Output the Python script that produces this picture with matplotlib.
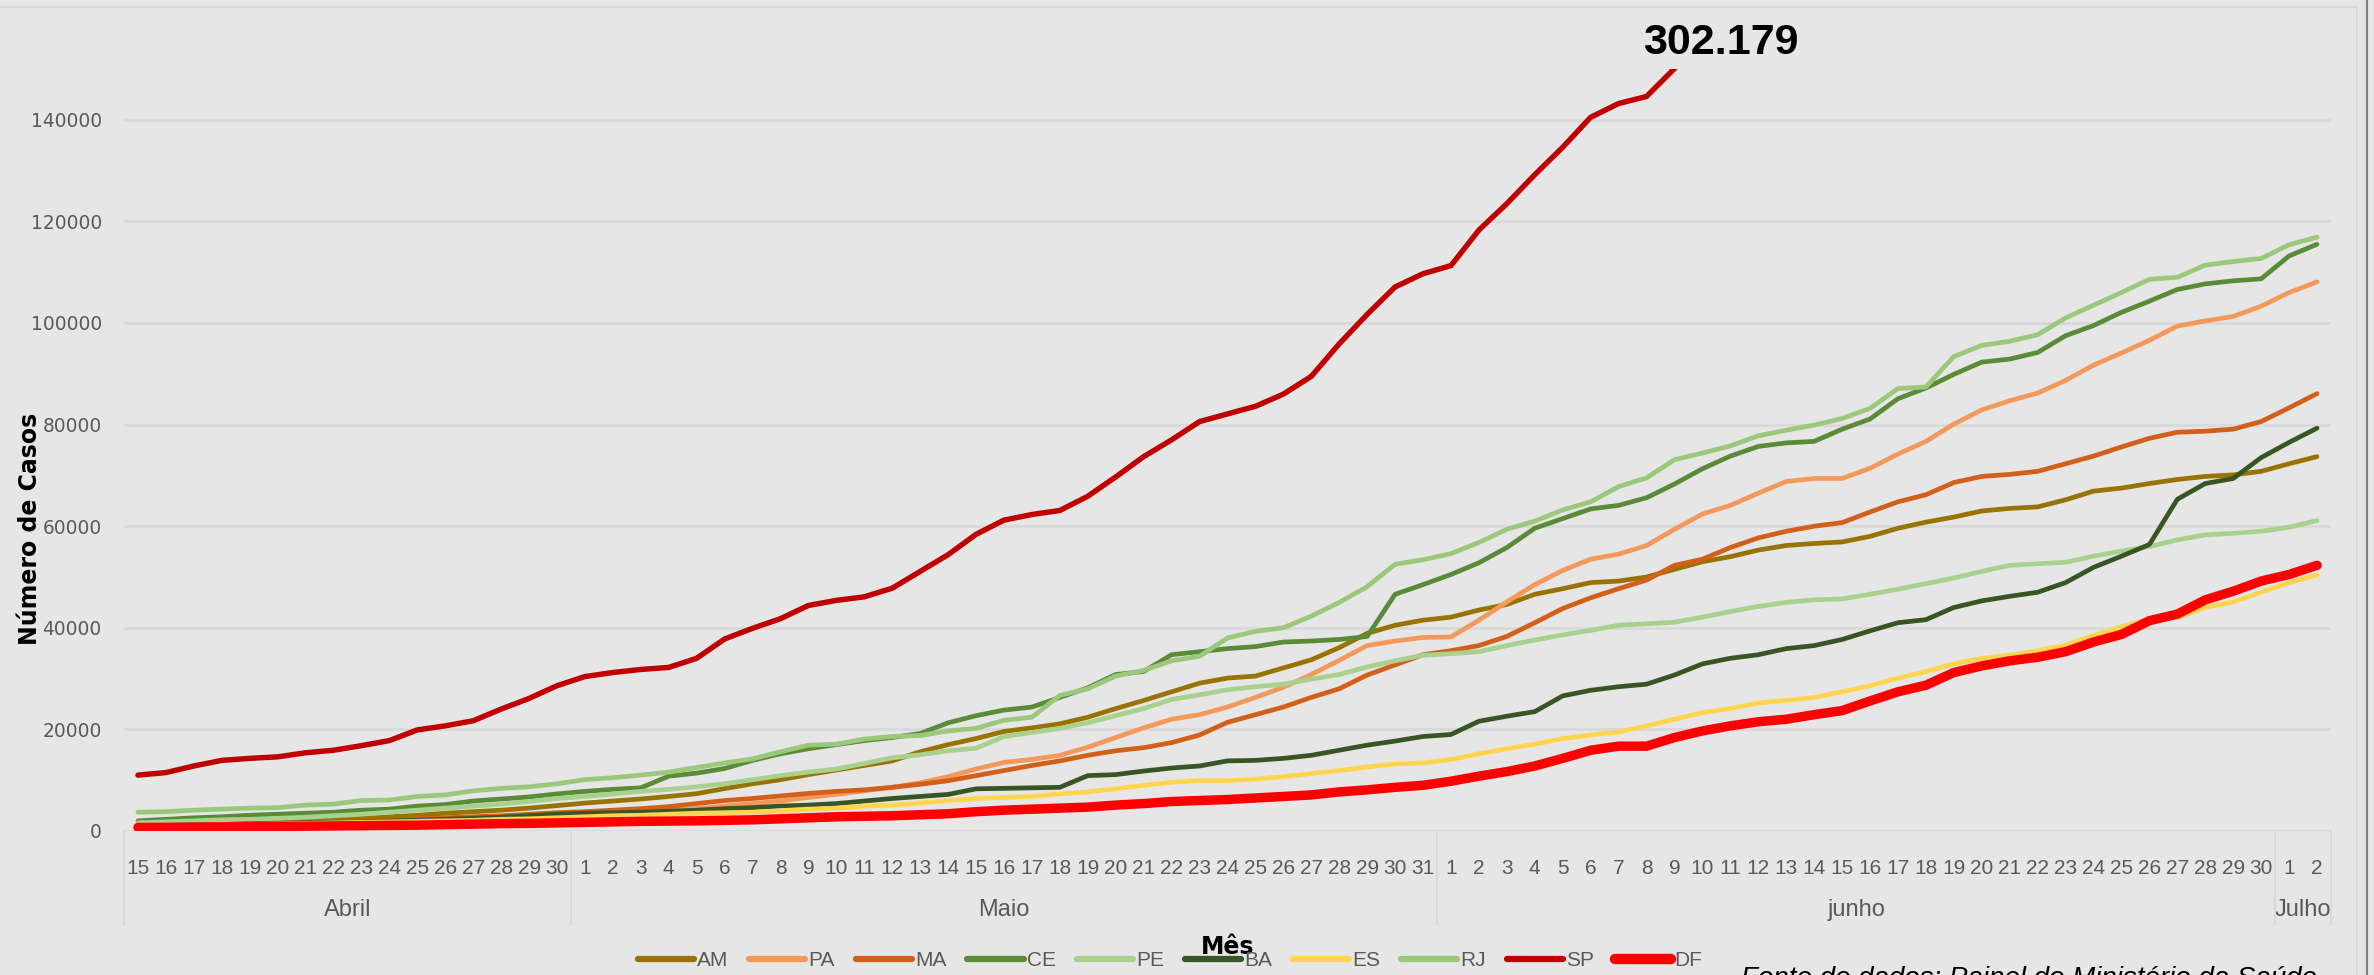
import numpy as np
import matplotlib
matplotlib.use('Agg')
import matplotlib.pyplot as plt
from matplotlib import transforms
from matplotlib.lines import Line2D

# eixo x: 15/abr a 2/jul
months = ['Abril', 'Maio', 'junho', 'Julho']
month_first = [15, 1, 1, 1]
month_last = [30, 31, 30, 2]
day_labels = []
for a, b in zip(month_first, month_last):
    day_labels += [str(d) for d in range(a, b + 1)]

am = [1200, 1300, 1400, 1500, 1600, 1800, 2000, 2200, 2500, 2800, 3100, 3500, 3800, 4100, 4500, 5000,
      5500, 5900, 6300, 6800, 7350, 8350, 9300, 10100, 11100, 12000,
      12900, 13800, 15600, 17000, 18200, 19600, 20300, 21100, 22400, 24100, 25700, 27400, 29100, 30100, 30500,
      32100, 33700, 36100, 38900, 40500, 41500,
      42100, 43500, 44600, 46600, 47700, 48900, 49200, 50000, 51500, 53000, 54000, 55300, 56200, 56600, 56900,
      58000, 59600, 60800, 61800, 63000, 63500, 63800, 65200, 66900, 67500, 68400, 69200, 69800, 70100, 70800,
      72300, 73700]
pa = [500, 550, 650, 700, 800, 900, 1000, 1100, 1300, 1500, 1700, 1900, 2100, 2400, 2700, 3000,
      3300, 3500, 3700, 4000, 4400, 4900, 5400, 5900, 6600, 7200,
      7900, 8600, 9500, 10700, 12200, 13500, 14100, 14900, 16500, 18400, 20300, 22000, 22900, 24400, 26300,
      28300, 30800, 33600, 36500, 37400, 38100,
      38200, 41500, 45100, 48500, 51300, 53500, 54500, 56200, 59400, 62400, 64100, 66500, 68800, 69400, 69400,
      71400, 74200, 76700, 80100, 82900, 84700, 86200, 88700, 91700, 94100, 96600, 99400, 100400, 101300, 103300,
      106000, 108100]
ma = [1000, 1100, 1200, 1300, 1400, 1500, 1700, 1800, 2000, 2200, 2400, 2600, 2800, 3000, 3300, 3600,
      3800, 4100, 4400, 4800, 5400, 6000, 6400, 6900, 7400, 7800,
      8100, 8600, 9200, 9900, 10900, 11900, 12900, 13800, 14900, 15800, 16400, 17400, 18900, 21400, 22900,
      24400, 26300, 28000, 30700, 32700, 34700,
      35500, 36500, 38300, 41000, 43800, 45900, 47700, 49400, 52300, 53500, 55800, 57700, 59000, 60000, 60700,
      62800, 64800, 66200, 68600, 69800, 70200, 70800, 72300, 73800, 75600, 77300, 78500, 78700, 79100, 80600,
      83300, 86100]
ce = [2000, 2300, 2600, 2800, 3100, 3300, 3500, 3700, 4100, 4300, 4900, 5200, 5900, 6300, 6700, 7300,
      7800, 8200, 8500, 10800, 11400, 12300, 13900, 15200, 16200, 17000,
      17800, 18400, 19200, 21300, 22700, 23800, 24400, 26300, 28200, 30800, 31400, 34700, 35300, 35900, 36300,
      37200, 37400, 37700, 38300, 46600, 48500,
      50500, 52800, 55800, 59600, 61500, 63400, 64100, 65600, 68300, 71300, 73800, 75700, 76400, 76700, 79100,
      81100, 85100, 87200, 89900, 92300, 92900, 94200, 97500, 99500, 102100, 104300, 106600, 107700, 108300, 108700,
      113200, 115500]
pe = [1600, 1800, 2000, 2200, 2300, 2500, 2700, 3000, 3300, 3700, 4100, 4500, 4900, 5300, 5800, 6400,
      6800, 7300, 7800, 8200, 8700, 9300, 10100, 10900, 11600, 12200,
      13300, 14400, 15000, 15800, 16300, 18600, 19400, 20200, 21300, 22700, 24100, 25900, 26800, 27800, 28400,
      28900, 29900, 30800, 32300, 33500, 34600,
      34900, 35300, 36500, 37600, 38600, 39500, 40500, 40800, 41100, 42100, 43200, 44200, 45000, 45500, 45700,
      46600, 47600, 48700, 49800, 51100, 52300, 52600, 52900, 54100, 55100, 56000, 57300, 58300, 58600, 59000,
      59800, 61100]
ba = [1000, 1100, 1200, 1300, 1400, 1500, 1600, 1700, 1800, 2000, 2100, 2300, 2500, 2700, 3000, 3300,
      3500, 3600, 3700, 3900, 4100, 4400, 4600, 4900, 5100, 5400,
      5900, 6400, 6800, 7200, 8300, 8400, 8500, 8600, 10900, 11100, 11800, 12400, 12800, 13800, 13900,
      14300, 14900, 15900, 16900, 17700, 18600,
      19000, 21600, 22600, 23500, 26600, 27700, 28400, 28900, 30700, 32900, 34000, 34700, 35900, 36500, 37700,
      39400, 41000, 41600, 44000, 45300, 46200, 47000, 48900, 51900, 54100, 56400, 65300, 68400, 69400, 73500,
      76500, 79300]
es = [1000, 1050, 1150, 1250, 1300, 1400, 1500, 1600, 1700, 1800, 1900, 2000, 2100, 2300, 2400, 2600,
      2800, 3000, 3100, 3300, 3500, 3600, 3700, 4000, 4300, 4500,
      4900, 5100, 5500, 6000, 6400, 6600, 6800, 7300, 7700, 8300, 9000, 9600, 9900, 9900, 10200,
      10700, 11300, 11900, 12600, 13200, 13400,
      14100, 15200, 16200, 17100, 18200, 18900, 19500, 20700, 22000, 23300, 24100, 25200, 25700, 26300, 27400,
      28600, 30100, 31400, 32900, 34000, 34600, 35500, 36600, 38500, 40200, 41700, 42000, 44000, 45100, 47000,
      48900, 50400]
rj = [3700, 3800, 4100, 4300, 4500, 4600, 5100, 5300, 6000, 6100, 6800, 7100, 7900, 8400, 8700, 9300,
      10100, 10500, 11000, 11600, 12500, 13400, 14200, 15600, 16900, 17100,
      18100, 18600, 18800, 19700, 20200, 21800, 22400, 26700, 28000, 30500, 31600, 33500, 34400, 38000, 39300,
      40000, 42300, 45000, 48100, 52500, 53400,
      54600, 56800, 59400, 61000, 63200, 64800, 67800, 69500, 73100, 74400, 75800, 77800, 78900, 79900, 81200,
      83200, 87100, 87400, 93400, 95600, 96400, 97700, 101000, 103500, 106000, 108600, 109000, 111400, 112100, 112700,
      115400, 116900]
# SP sai do topo do eixo (150000) em 9/jun
sp = [11000, 11500, 12800, 13900, 14300, 14600, 15400, 15900, 16800, 17800, 19900, 20700, 21700, 24000, 26100, 28600,
      30400, 31200, 31800, 32200, 34000, 37800, 39900, 41800, 44400, 45400,
      46100, 47800, 51100, 54400, 58400, 61200, 62300, 63100, 65900, 69700, 73700, 77000, 80600, 82100, 83600,
      86000, 89500, 95900, 101700, 107100, 109700,
      111300, 118300, 123500, 129200, 134600, 140500, 143200, 144600, 150100, 156300]
df = [700, 720, 760, 800, 850, 900, 950, 1000, 1050, 1100, 1150, 1250, 1350, 1450, 1500, 1600,
      1700, 1800, 1900, 1950, 2000, 2100, 2200, 2400, 2600, 2800,
      2900, 3000, 3200, 3400, 3800, 4100, 4300, 4500, 4700, 5100, 5400, 5800, 6000, 6200, 6500,
      6800, 7100, 7700, 8100, 8600, 9000,
      9800, 10800, 11700, 12800, 14300, 15900, 16700, 16700, 18400, 19700, 20700, 21500, 22000, 22900, 23700,
      25600, 27400, 28700, 31200, 32500, 33500, 34200, 35300, 37200, 38700, 41400, 42700, 45500, 47200, 49200,
      50500, 52300]
sp_total = '302.179'

n = len(day_labels)
x = np.arange(n)
sp_full = np.full(n, np.nan)
sp_full[:len(sp)] = sp

series = [
    ('AM', am, '#997300', 3.4),
    ('PA', pa, '#F4995C', 3.4),
    ('MA', ma, '#D2601A', 3.4),
    ('CE', ce, '#5A8C38', 3.4),
    ('PE', pe, '#A9D18E', 3.4),
    ('BA', ba, '#375623', 3.4),
    ('ES', es, '#FFD54F', 3.4),
    ('RJ', rj, '#9CC87C', 3.4),
    ('SP', sp_full, '#C00000', 3.9),
    ('DF', df, '#FF0000', 6.8),
]

W, H = 2374, 975
bg = '#E6E6E6'
grid_c = '#D9D9D9'
txt_c = '#595959'

fig = plt.figure(figsize=(W / 100, H / 100), dpi=100, facecolor=bg)
ax = fig.add_axes([124 / W, 1 - 831 / H, (2331 - 124) / W, (831 - 69) / H])
ax.set_facecolor(bg)

for name, vals, color, lw in series:
    ax.plot(x, vals, color=color, lw=lw, label=name,
            solid_joinstyle='round', solid_capstyle='round')

ax.set_xlim(-0.5, n - 0.5)
ax.set_ylim(0, 150000)
ax.set_yticks(np.arange(0, 140001, 20000))
ax.set_yticklabels([str(v) for v in range(0, 140001, 20000)],
                   fontsize=13.4, color=txt_c, family='DejaVu Sans')
ax.grid(axis='y', color=grid_c, lw=2)
ax.set_axisbelow(True)
for s in ax.spines.values():
    s.set_visible(False)
ax.set_xticks(x)
ax.set_xticklabels(day_labels, fontsize=15, color=txt_c, family='Liberation Sans')
ax.tick_params(axis='x', length=0, pad=20)
ax.tick_params(axis='y', length=0, pad=16)

# meses e separadores
tr = transforms.blended_transform_factory(ax.transData, fig.transFigure)
start = -0.5
bounds = [start]
for a, b, m in zip(month_first, month_last, months):
    cnt = b - a + 1
    ax.text(start + cnt / 2, 1 - 910 / H, m, transform=tr, ha='center', va='center',
            fontsize=17, color=txt_c, family='Liberation Sans')
    start += cnt
    bounds.append(start)
for b in bounds:
    fig.add_artist(Line2D([b, b], [1 - 831 / H, 1 - 925 / H], transform=tr,
                          color=grid_c, lw=1.5))

# textos
fig.text(1721 / W, 1 - 43 / H, sp_total, ha='center', va='center', fontsize=31,
         fontweight='bold', family='Liberation Sans', color='black')
fig.text(30 / W, 1 - 529 / H, 'Número de Casos', rotation=90, ha='center', va='center',
         fontsize=17, fontweight='bold', color='black')
fig.text(1228 / W, 1 - 947 / H, 'Mês', ha='center', va='center', fontsize=17,
         fontweight='bold', color='black')
fig.text(1741 / W, 1 - 966 / H, 'Fonte de dados: Painel do Ministério da Saúde', ha='left', va='top',
         fontsize=20, style='italic', family='Liberation Sans', color='black')

handles = [Line2D([0], [0], color=c, lw=(7.5 if nm == 'DF' else 4.5), solid_capstyle='round')
           for nm, _, c, _ in series]
fig.legend(handles, [s[0] for s in series], loc='center', bbox_to_anchor=(1170 / W, 1 - 961 / H),
           ncol=10, frameon=False, handlelength=2.7, handletextpad=0.15, columnspacing=1.0,
           borderpad=0, prop={'family': 'Liberation Sans', 'size': 15}, labelcolor=txt_c)

# moldura
fig.add_artist(Line2D([0, 2357 / W], [1 - 7 / H, 1 - 7 / H], color=grid_c, lw=1.5))
fig.add_artist(Line2D([2357 / W, 2357 / W], [0, 1 - 7 / H], color=grid_c, lw=1.5))
fig.add_artist(Line2D([2367 / W, 2367 / W], [0, 1], color='#7F7F7F', lw=1.5))

fig.savefig('out.png', dpi=100, facecolor=bg)
